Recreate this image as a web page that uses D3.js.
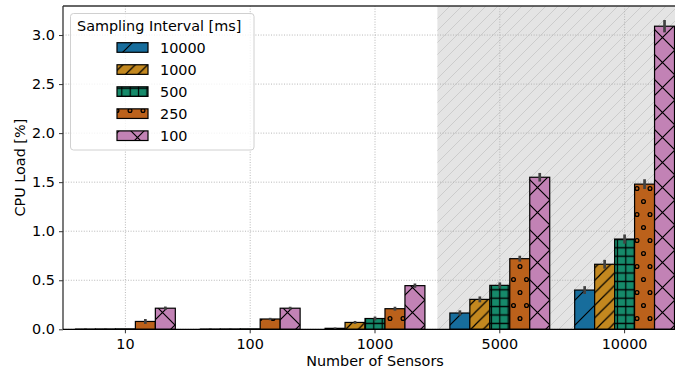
<!DOCTYPE html>
<html>
<head>
<meta charset="utf-8">
<script src="https://cdn.jsdelivr.net/npm/d3@7"></script>
<style>
  body { margin: 0; background: #fff; }
  text { font-family: "DejaVu Sans", sans-serif; fill: #000; }
</style>
</head>
<body>
<script>
// categories on x, hue levels (sampling interval)
const sensors = ["10", "100", "1000", "5000", "10000"];
const intervals = ["10000", "1000", "500", "250", "100"];

// mean CPU load [%] per interval, one value per sensor count
const load10000 = [0.002, 0.002, 0.010, 0.166, 0.400];
const load1000  = [0.003, 0.003, 0.070, 0.305, 0.663];
const load500   = [0.004, 0.004, 0.110, 0.448, 0.920];
const load250   = [0.080, 0.105, 0.210, 0.720, 1.480];
const load100   = [0.215, 0.215, 0.445, 1.550, 3.090];

// half length of the error bars
const err10000 = [0.008, 0.008, 0.008, 0.027, 0.040];
const err1000  = [0.008, 0.008, 0.015, 0.030, 0.045];
const err500   = [0.008, 0.008, 0.020, 0.030, 0.047];
const err250   = [0.025, 0.012, 0.020, 0.030, 0.050];
const err100   = [0.017, 0.015, 0.022, 0.044, 0.063];

const yTicks = [0, 0.5, 1.0, 1.5, 2.0, 2.5, 3.0];

const loads = [load10000, load1000, load500, load250, load100];
const errs = [err10000, err1000, err500, err250, err100];
const colors = ["#176d9c", "#c3881f", "#168a6a", "#bb611b", "#c282b5"];
const hatches = ["fwd", "fwd2", "plus", "dots", "cross"];

const width = 675, height = 379;
const margin = {left: 63, top: 6, right: 687, bottom: 329.3};

const svg = d3.select("body").append("svg")
    .attr("width", width)
    .attr("height", height);

// hatch patterns
const defs = svg.append("defs");
function diagPattern(id, s, color, lw) {
    defs.append("pattern").attr("id", id)
        .attr("patternUnits", "userSpaceOnUse")
        .attr("width", s).attr("height", s)
        .append("path")
        .attr("d", `M0,${s} L${s},0 M${-s/4},${s/4} L${s/4},${-s/4} M${3*s/4},${5*s/4} L${5*s/4},${3*s/4}`)
        .attr("stroke", color).attr("stroke-width", lw).attr("fill", "none")
}
diagPattern("fwd", 25, "#000", 1.2)
diagPattern("fwd2", 12.5, "#000", 1.2)
diagPattern("shade", 12, "#c9c9c9", 0.9)

let p = defs.append("pattern").attr("id", "cross")
    .attr("patternUnits", "userSpaceOnUse")
    .attr("width", 25).attr("height", 25)
p.append("path")
    .attr("d", "M0,25 L25,0 M-6,6 L6,-6 M19,31 L31,19 M0,0 L25,25 M-6,19 L6,31 M19,-6 L31,6")
    .attr("stroke", "#000").attr("stroke-width", 1.2).attr("fill", "none")

p = defs.append("pattern").attr("id", "plus")
    .attr("patternUnits", "userSpaceOnUse")
    .attr("width", 8.4).attr("height", 8.4)
p.append("path")
    .attr("d", "M0,4.2 H8.4 M4.2,0 V8.4")
    .attr("stroke", "#000").attr("stroke-width", 1.2).attr("fill", "none")

p = defs.append("pattern").attr("id", "dots")
    .attr("patternUnits", "userSpaceOnUse")
    .attr("width", 13).attr("height", 26)
for (const [cx, cy] of [[0, 6.5], [13, 6.5], [6.5, 19.5]]) {
    p.append("circle").attr("cx", cx).attr("cy", cy).attr("r", 1.9)
        .attr("stroke", "#000").attr("stroke-width", 1.3).attr("fill", "none")
}

// scales
const x = d3.scaleBand()
    .domain(sensors)
    .range([margin.left, margin.right])
    .padding(0);

const xHue = d3.scaleBand()
    .domain(intervals)
    .range([x.bandwidth() * 0.1, x.bandwidth() * 0.9]);

const y = d3.scaleLinear()
    .domain([0, 3.296])
    .range([margin.bottom, margin.top]);

// shaded region from between 1000 and 5000 to the right
const shadeX = x("5000") - (x("5000") - x("1000") - x.bandwidth()) / 2;
svg.append("rect")
    .attr("x", shadeX).attr("y", margin.top)
    .attr("width", margin.right - shadeX).attr("height", margin.bottom - margin.top)
    .attr("fill", "#e4e4e4")
svg.append("rect")
    .attr("x", shadeX).attr("y", margin.top)
    .attr("width", margin.right - shadeX).attr("height", margin.bottom - margin.top)
    .attr("fill", "url(#shade)")

// grid
const grid = svg.append("g").attr("stroke", "#b0b0b0").attr("stroke-width", 0.9)
    .attr("stroke-dasharray", "1,1.6");
grid.selectAll("line.gy").data(yTicks).enter().append("line")
    .attr("x1", margin.left).attr("x2", margin.right)
    .attr("y1", d => y(d)).attr("y2", d => y(d))
grid.selectAll("line.gx").data(sensors).enter().append("line")
    .attr("x1", d => x(d) + x.bandwidth() / 2).attr("x2", d => x(d) + x.bandwidth() / 2)
    .attr("y1", margin.top).attr("y2", margin.bottom)

// bars
intervals.forEach((iv, k) => {
    const g = svg.append("g");
    const data = sensors.map((s, i) => ({s: s, v: loads[k][i], e: errs[k][i]}));
    const bx = d => x(d.s) + xHue(iv);
    g.selectAll("rect.fill").data(data).enter().append("rect")
        .attr("x", bx).attr("y", d => y(d.v))
        .attr("width", xHue.bandwidth()).attr("height", d => y(0) - y(d.v))
        .attr("fill", colors[k])
    g.selectAll("rect.hatch").data(data).enter().append("rect")
        .attr("x", bx).attr("y", d => y(d.v))
        .attr("width", xHue.bandwidth()).attr("height", d => y(0) - y(d.v))
        .attr("fill", `url(#${hatches[k]})`)
        .attr("stroke", "#000").attr("stroke-width", 1.2)
    g.selectAll("line").data(data).enter().append("line")
        .attr("x1", d => bx(d) + xHue.bandwidth() / 2)
        .attr("x2", d => bx(d) + xHue.bandwidth() / 2)
        .attr("y1", d => y(d.v - d.e)).attr("y2", d => y(d.v + d.e))
        .attr("stroke", "#424242").attr("stroke-width", 2.7)
})

// axes
const axisFont = "14.4px";
const yAxis = svg.append("g")
    .attr("transform", `translate(${margin.left},0)`)
    .call(d3.axisLeft(y).tickValues(yTicks).tickFormat(d3.format(".1f")).tickSizeOuter(0).tickSize(4).tickPadding(4));
const xAxis = svg.append("g")
    .attr("transform", `translate(0,${margin.bottom})`)
    .call(d3.axisBottom(x).tickSizeOuter(0).tickSize(4).tickPadding(5));
for (const a of [xAxis, yAxis]) {
    a.select(".domain").remove();
    a.selectAll("line").attr("stroke", "#333").attr("stroke-width", 1);
    a.selectAll("text").style("font-size", axisFont).attr("fill", "#000")
        .style("font-family", "'DejaVu Sans', sans-serif");
}

// spines
const spines = svg.append("g").attr("stroke", "#333").attr("stroke-width", 1.3).attr("fill", "none");
spines.append("line").attr("x1", margin.left).attr("x2", margin.left)
    .attr("y1", margin.top).attr("y2", margin.bottom)
spines.append("line").attr("x1", margin.left).attr("x2", margin.right)
    .attr("y1", margin.top).attr("y2", margin.top)
spines.append("line").attr("x1", margin.left).attr("x2", margin.right)
    .attr("y1", margin.bottom).attr("y2", margin.bottom).attr("stroke", "#000")

// axis labels
svg.append("text")
    .attr("x", (margin.left + margin.right) / 2).attr("y", 366)
    .attr("text-anchor", "middle").style("font-size", axisFont)
    .text("Number of Sensors")
svg.append("text")
    .attr("transform", `translate(25,${(margin.top + margin.bottom) / 2}) rotate(-90)`)
    .attr("text-anchor", "middle").style("font-size", axisFont)
    .text("CPU Load [%]")

// legend
const legend = svg.append("g");
legend.append("rect")
    .attr("x", 70.5).attr("y", 13.5).attr("width", 183.5).attr("height", 136.5)
    .attr("rx", 3).attr("fill", "#fff").attr("fill-opacity", 0.8)
    .attr("stroke", "#d0d0d0").attr("stroke-width", 1)
legend.append("text")
    .attr("x", 77).attr("y", 30.5).style("font-size", axisFont)
    .text("Sampling Interval [ms]")
const ly = d3.scalePoint().domain(intervals).range([47.5, 135.7]);
intervals.forEach((iv, k) => {
    legend.append("rect")
        .attr("x", 117).attr("y", ly(iv) - 4.8).attr("width", 31).attr("height", 9.6)
        .attr("fill", colors[k])
    legend.append("rect")
        .attr("x", 117).attr("y", ly(iv) - 4.8).attr("width", 31).attr("height", 9.6)
        .attr("fill", `url(#${hatches[k]})`).attr("stroke", "#000").attr("stroke-width", 1.2)
    legend.append("text")
        .attr("x", 160).attr("y", ly(iv) + 5.2).style("font-size", axisFont)
        .text(iv)
})
</script>
</body>
</html>
